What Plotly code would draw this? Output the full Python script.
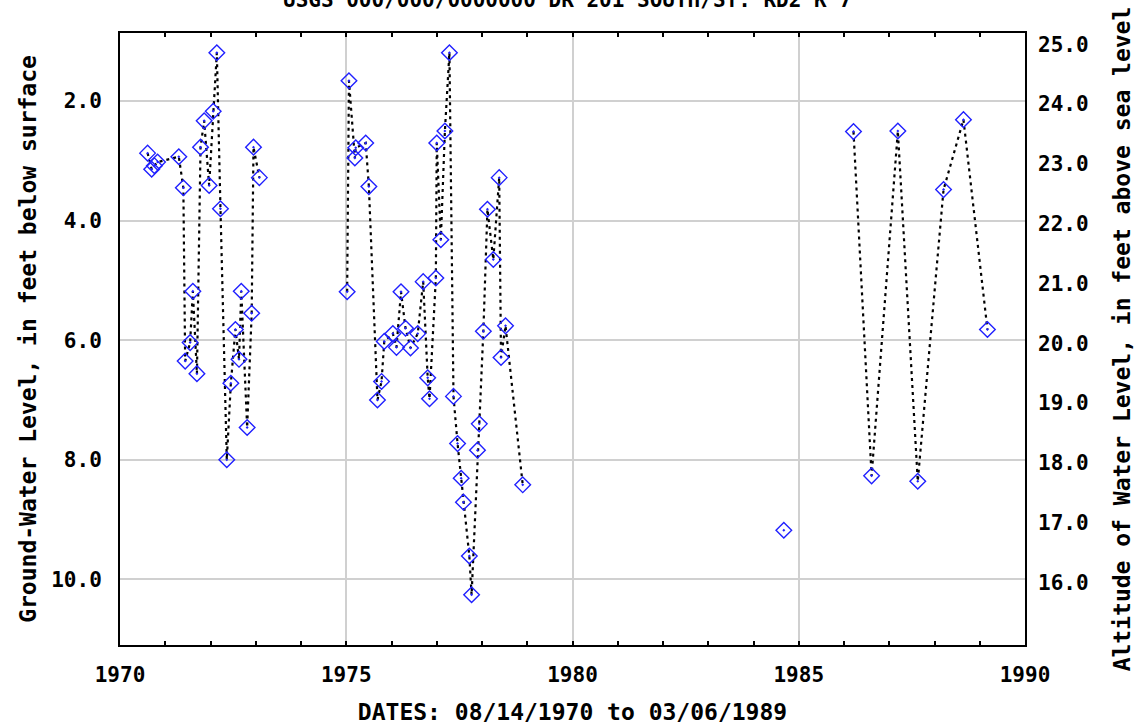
import plotly.graph_objects as go

# ---- data (decimal year, depth to water in feet below land surface) ----
years = [
    1970.61, 1970.70, 1970.76, 1970.83, 1971.30, 1971.40, 1971.44, 1971.55,
    1971.61, 1971.70, 1971.78, 1971.86, 1971.97, 1972.06, 1972.14, 1972.22,
    1972.36, 1972.45, 1972.55, 1972.63, 1972.68, 1972.81, 1972.91, 1972.95,
    1973.08,
    1975.02, 1975.06, 1975.19, 1975.21, 1975.43, 1975.50, 1975.69, 1975.78,
    1975.84, 1976.03, 1976.11, 1976.21, 1976.31, 1976.42, 1976.58, 1976.70,
    1976.80, 1976.84, 1976.98, 1977.00, 1977.09, 1977.18, 1977.28, 1977.37,
    1977.46, 1977.54, 1977.59, 1977.72, 1977.77, 1977.90, 1977.94, 1978.03,
    1978.12, 1978.25, 1978.38, 1978.42, 1978.52, 1978.90,
    1984.67,
    1986.21, 1986.61, 1987.19, 1987.63, 1988.20, 1988.64, 1989.17,
]
depths = [
    2.87, 3.14, 3.08, 3.02, 2.93, 3.45, 6.35, 6.04,
    5.18, 6.56, 2.77, 2.33, 3.41, 2.17, 1.19, 3.80,
    8.00, 6.72, 5.82, 6.32, 5.18, 7.46, 5.55, 2.77,
    3.28,
    5.19, 1.66, 2.95, 2.78, 2.70, 3.43, 7.00, 6.69,
    6.02, 5.89, 6.12, 5.19, 5.80, 6.13, 5.89, 5.02,
    6.63, 6.98, 4.96, 2.70, 4.32, 2.50, 1.19, 6.94,
    7.73, 8.31, 8.71, 9.61, 10.26, 7.84, 7.40, 5.85,
    3.81, 4.65, 3.28, 6.29, 5.76, 8.42,
    9.18,
    2.51, 8.27, 2.50, 8.36, 3.48, 2.31, 5.82,
]
land_surface_altitude = 26.05
x_tick_vals = [1970, 1975, 1980, 1985, 1990]
x_tick_text = ["1970", "1975", "1980", "1985", "1990"]
left_tick_vals = [2.0, 4.0, 6.0, 8.0, 10.0]
right_tick_vals = [16.0, 17.0, 18.0, 19.0, 20.0, 21.0, 22.0, 23.0, 24.0, 25.0]
depth_range = [0.86, 11.1]

title_text = "USGS 000/000/0000000 DR 201 SOUTH/ST. RD2 K 7"
x_title = "DATES: 08/14/1970 to 03/06/1989"
left_title = "Ground-Water Level, in feet below surface"
right_title = "Altitude of Water Level, in feet above sea level"

# connecting line: break where gap between observations exceeds one year
line_x, line_y = [], []
for i, (x, y) in enumerate(zip(years, depths)):
    if i > 0 and x - years[i - 1] > 1.0:
        line_x.append(None)
        line_y.append(None)
    line_x.append(x)
    line_y.append(y)

FONT = "DejaVu Sans Mono"

fig = go.Figure()
fig.add_trace(go.Scatter(
    x=line_x, y=line_y, mode="lines",
    line=dict(color="black", width=2.2, dash="3px,4px"),
    connectgaps=False, hoverinfo="skip", showlegend=False,
))
fig.add_trace(go.Scatter(
    x=years, y=depths, mode="markers",
    marker=dict(symbol="diamond-open-dot", size=12, color="#2020ff",
                line=dict(width=1.4, color="#2020ff")),
    showlegend=False,
))
# invisible trace to activate right axis
fig.add_trace(go.Scatter(
    x=[years[0]], y=[land_surface_altitude - depths[0]], yaxis="y2",
    mode="markers", marker=dict(opacity=0), showlegend=False, hoverinfo="skip",
))

fig.update_layout(
    width=1135, height=725,
    margin=dict(l=120, r=110, t=33, b=80),
    paper_bgcolor="white", plot_bgcolor="white",
    font=dict(family=FONT, size=21, color="black", weight="bold"),
    title=dict(text=title_text, x=0.5, xanchor="center", y=1.0, yref="container",
               yanchor="middle", font=dict(family=FONT, size=21, color="black", weight="bold")),
    xaxis=dict(
        range=[1970, 1990], tickmode="array", tickvals=x_tick_vals, ticktext=x_tick_text,
        showgrid=True, gridcolor="#d0d0d0", gridwidth=2,
        showline=True, linecolor="black", linewidth=2, mirror="allticks",
        ticks="inside", ticklen=4, tickcolor="black", tickwidth=2,
        minor=dict(dtick=1, ticks="inside", ticklen=4, tickcolor="black", tickwidth=2, showgrid=False),
        ticklabelstandoff=10, automargin=False,
        zeroline=False,
        title=dict(text=x_title, standoff=20, font=dict(family=FONT, size=23, weight="bold")),
    ),
    yaxis=dict(
        range=[depth_range[1], depth_range[0]], tickmode="array", tickvals=left_tick_vals,
        tickformat=".1f",
        showgrid=True, gridcolor="#d0d0d0", gridwidth=2,
        showline=True, linecolor="black", linewidth=2, mirror=True,
        ticks="", ticklabelstandoff=12, zeroline=False, automargin=False,
        title=dict(text=left_title, standoff=8, font=dict(family=FONT, size=23, weight="bold")),
    ),
    yaxis2=dict(
        overlaying="y", side="right",
        range=[land_surface_altitude - depth_range[1], land_surface_altitude - depth_range[0]],
        tickmode="array", tickvals=right_tick_vals, tickformat=".1f",
        showgrid=False, showline=False, ticks="", ticklabelstandoff=12, zeroline=False,
        automargin=False,
        title=dict(text=right_title, standoff=28, font=dict(family=FONT, size=23, weight="bold")),
    ),
)

fig.write_html("out.html", config={"displayModeBar": False},
               post_script="document.body.style.margin='0px';")
